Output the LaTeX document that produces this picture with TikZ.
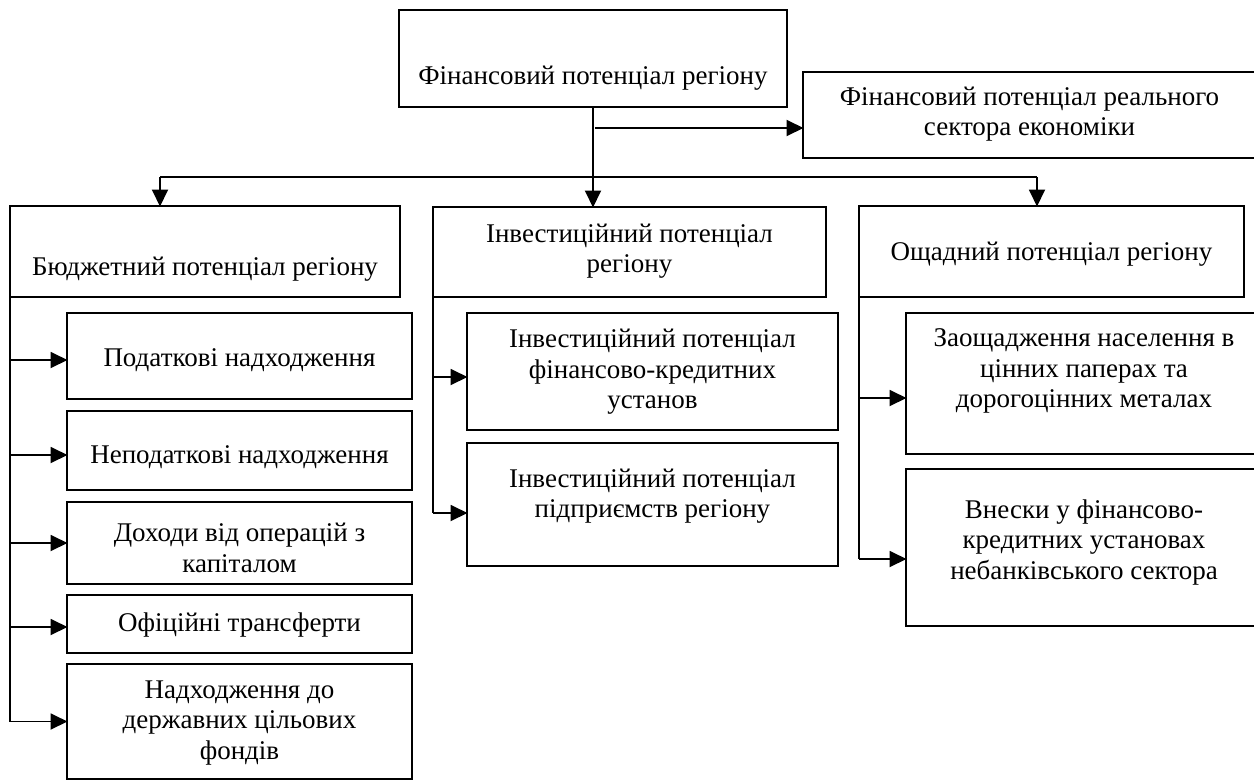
\documentclass[tikz,border=0pt]{standalone}
\usepackage{fontspec}
\setmainfont{Liberation Serif}
\usetikzlibrary{arrows.meta,calc}
\newcommand\mybox[7]{%
  \node[boxst, minimum width={#4-#2}, minimum height={#5-#3}] (#1) at ({(#2+#4)/2},{(#3+#5)/2}) {};
  \node[txt] (#1-t) at ({(#2+#4)/2},{#6+2}) {#7};
}
\begin{document}
\begin{tikzpicture}[x=1pt,y=-1pt,
  boxst/.style={draw, line width=1.9pt, inner sep=0pt, outer sep=0pt},
  txt/.style={inner sep=0pt, align=center, font=\fontsize{27}{30.5}\selectfont},
  conn/.style={line width=1.9pt},
  arr/.style={line width=1.9pt, -{Triangle[length=17pt,width=16pt]}, shorten >=-0.5pt}]
\useasboundingbox (0,0) rectangle (1254,780);
\clip (0,0) rectangle (1254,780);
\fill[white] (0,0) rectangle (1254,780);

\mybox{top}{399}{10}{787}{107}{76}{Фінансовий потенціал регіону}
\mybox{real}{803}{72}{1256}{158}{112}{Фінансовий потенціал реального\\сектора економіки}
\mybox{budget}{10}{206}{400}{297}{267}{Бюджетний потенціал регіону}
\mybox{invest}{433}{207}{826}{297}{249}{Інвестиційний потенціал\\регіону}
\mybox{saving}{859}{206}{1244}{297}{252}{Ощадний потенціал регіону}

\mybox{L1}{67}{313}{412}{399}{358}{Податкові надходження}
\mybox{L2}{67}{411}{412}{490}{455}{Неподаткові надходження}
\mybox{L3}{67}{502}{412}{584}{546}{Доходи від операцій з\\капіталом}
\mybox{L4}{67}{595}{412}{653}{623}{Офіційні трансферти}
\mybox{L5}{67}{664}{412}{779}{721}{Надходження до\\державних цільових\\фондів}

\mybox{M1}{467}{313}{838}{430}{370}{Інвестиційний потенціал\\фінансово-кредитних\\установ}
\mybox{M2}{467}{443}{838}{566}{494}{Інвестиційний потенціал\\підприємств регіону}

\mybox{R1}{906}{313}{1262}{454}{369}{Заощадження населення в\\цінних паперах та\\дорогоцінних металах}
\mybox{R2}{906}{469}{1262}{626}{540}{Внески у фінансово-\\кредитних установах\\небанківського сектора}

% arrow end points on the children
\coordinate (L1a) at ([yshift=-4pt]L1.west);
\coordinate (L2a) at ([yshift=-4.5pt]L2.west);
\coordinate (L3a) at (L3.west);
\coordinate (L4a) at ([yshift=-3pt]L4.west);
\coordinate (L5a) at (L5.west);
\coordinate (M1a) at ([yshift=-5.5pt]M1.west);
\coordinate (M2a) at ([yshift=-8.5pt]M2.west);
\coordinate (R1a) at ([yshift=-14.5pt]R1.west);
\coordinate (R2a) at ([yshift=-11.5pt]R2.west);

% top connectors
\draw[arr] (top.south) -- (top.south |- invest.north);
\coordinate (br) at (595,128);
\draw[arr] (br) -- (br -| real.west);
\coordinate (dl) at (160,177);
\coordinate (dr) at (1037,177);
\draw[conn] (dl) -- (dr);
\draw[arr] (dl) -- (dl |- budget.north);
\draw[arr] (dr) -- (dr |- saving.north);

% left bus
\coordinate (lb) at (budget.south west);
\draw[conn] (lb) -- (lb |- L5a);
\foreach \c in {L1a,L2a,L3a,L4a,L5a} \draw[arr] (lb |- \c) -- (\c);

% middle bus
\coordinate (mb) at (invest.south west);
\draw[conn] (mb) -- (mb |- M2a);
\foreach \c in {M1a,M2a} \draw[arr] (mb |- \c) -- (\c);

% right bus
\coordinate (rb) at (saving.south west);
\draw[conn] (rb) -- (rb |- R2a);
\foreach \c in {R1a,R2a} \draw[arr] (rb |- \c) -- (\c);
\end{tikzpicture}
\end{document}
